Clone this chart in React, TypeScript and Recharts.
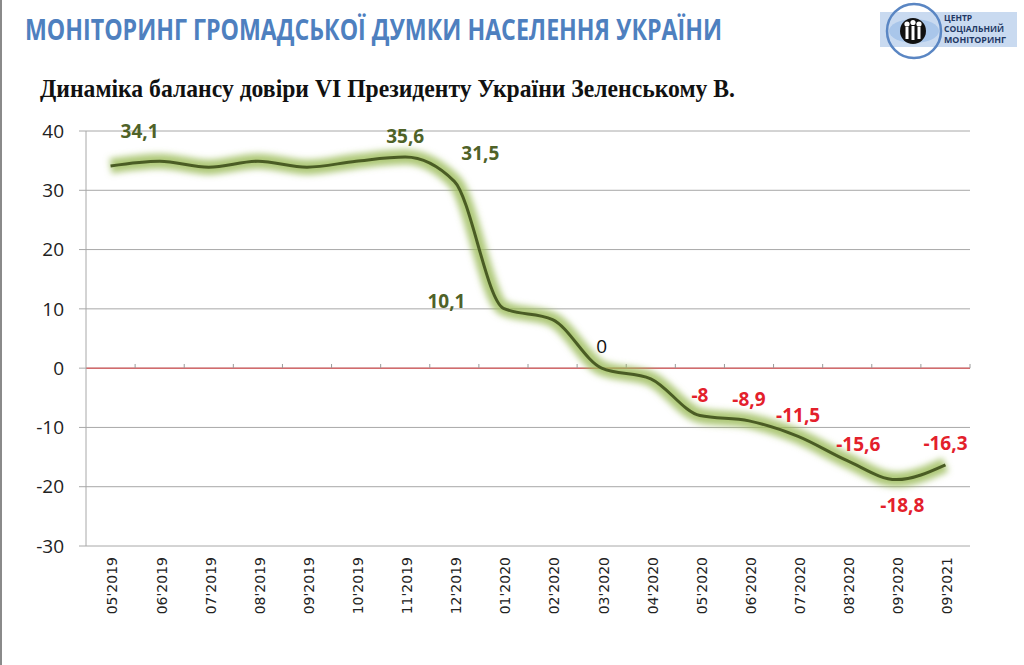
import React from 'react';
import { LineChart, Line, XAxis, YAxis, CartesianGrid, ReferenceLine, LabelList } from 'recharts';

const months = [
  "05'2019", "06'2019", "07'2019", "08'2019", "09'2019", "10'2019", "11'2019", "12'2019",
  "01'2020", "02'2020", "03'2020", "04'2020", "05'2020", "06'2020", "07'2020", "08'2020",
  "09'2020", "09'2021",
];
const balance = [34.1, 34.9, 33.9, 34.9, 33.9, 34.9, 35.6, 31.5, 10.1, 8.2, 0, -1.8, -8, -8.9, -11.5, -15.6, -18.8, -16.3];
const shownLabels: (number | null)[] = [34.1, null, null, null, null, null, 35.6, 31.5, 10.1, null, 0, null, -8, -8.9, -11.5, -15.6, -18.8, -16.3];
const yTicks = [40, 30, 20, 10, 0, -10, -20, -30];

const data = months.map((m, i) => ({ idx: i, month: m, balance: balance[i], label: shownLabels[i] }));
const boundaries = months.map((_, i) => i + 0.5);

// label placement (style): offset of label centre from the point
const labelOffsets: Record<number, [number, number]> = {
  0: [29, -35], 6: [0, -21], 7: [26, -28], 8: [-57, -7], 10: [0, -22],
  12: [0, -21], 13: [0, -22], 14: [0, -21], 15: [11, -17], 16: [6, 25], 17: [0, -22],
};

const renderLabel = (props: any) => {
  const { x, y, value, index } = props;
  if (value === null || value === undefined) return null;
  const off = labelOffsets[index] || [0, -20];
  const isZero = value === 0;
  const color = isZero ? '#111111' : value > 0 ? '#4F6228' : '#E3202B';
  return (
    <text
      x={x + off[0]}
      y={y + off[1] + 7}
      textAnchor="middle"
      fill={color}
      fontFamily="'Open Sans', sans-serif"
      fontSize={19}
      fontWeight={isZero ? 400 : 700}
    >
      {String(value).replace('.', ',')}
    </text>
  );
};

const XTick = (props: any) => {
  const { x, y, payload } = props;
  return (
    <text
      transform={`translate(${x + 2},${y + 11}) rotate(-90)`}
      textAnchor="end"
      dy="0.35em"
      fill="#222"
      fontFamily="'DejaVu Sans', sans-serif"
      fontSize={14}
    >
      {months[payload.value]}
    </text>
  );
};

const Logo = () => (
  <svg width={160} height={66} style={{ position: 'absolute', left: 864, top: 0 }} viewBox="864 0 160 66">
    <rect x={880} y={12} width={137} height={35} fill="#C9DAF0" />
    <ellipse cx={914} cy={31} rx={25} ry={12} fill="#A9C6EA" />
    <circle cx={914} cy={31} r={27} fill="none" stroke="#5A86C3" strokeWidth={2.5} />
    <circle cx={913} cy={31} r={13} fill="#111" />
    <circle cx={907} cy={24} r={2.6} fill="#fff" />
    <circle cx={913} cy={22.5} r={2.6} fill="#fff" />
    <circle cx={919} cy={24} r={2.6} fill="#fff" />
    <rect x={905.5} y={27} width={3} height={12} fill="#fff" />
    <rect x={911.5} y={26} width={3} height={14} fill="#fff" />
    <rect x={917.5} y={27} width={3} height={12} fill="#fff" />
    <g fontFamily="'Open Sans', sans-serif" fontWeight={700} fontSize={8.5} fill="#1F3864">
      <text x={944} y={21}>ЦЕНТР</text>
      <text x={944} y={32} textLength={60} lengthAdjust="spacingAndGlyphs">СОЦІАЛЬНИЙ</text>
      <text x={944} y={43} textLength={62} lengthAdjust="spacingAndGlyphs">МОНІТОРИНГ</text>
    </g>
  </svg>
);

export default function App() {
  return (
    <div style={{ position: 'absolute', left: 0, top: 0, width: 1024, height: 665, background: '#fff', overflow: 'hidden' }}>
      <div style={{ position: 'absolute', left: 0, top: 0, width: 2, height: 665, background: '#8a8a8a' }} />
      <svg width={1024} height={110} style={{ position: 'absolute', left: 0, top: 0 }}>
        <text
          x={25}
          y={40}
          textLength={697}
          lengthAdjust="spacingAndGlyphs"
          fontFamily="'Open Sans', sans-serif"
          fontWeight={700}
          fontSize={28}
          fill="#4E80BF"
        >
          МОНІТОРИНГ ГРОМАДСЬКОЇ ДУМКИ НАСЕЛЕННЯ УКРАЇНИ
        </text>
        <text
          x={40}
          y={97}
          textLength={695}
          lengthAdjust="spacingAndGlyphs"
          fontFamily="'Liberation Serif', 'DejaVu Serif', serif"
          fontWeight={700}
          fontSize={25}
          fill="#111"
        >
          Динаміка балансу довіри VI Президенту України Зеленському В.
        </text>
      </svg>
      <Logo />
      <div style={{ position: 'absolute', left: 0, top: 0 }}>
        <LineChart
          width={1024}
          height={665}
          data={data}
          margin={{ top: 131, right: 54, bottom: 39, left: 26 }}
        >
          <defs>
            <filter id="glow" x="-10%" y="-10%" width="120%" height="120%">
              <feGaussianBlur stdDeviation="3" />
            </filter>
          </defs>
          <CartesianGrid horizontal vertical={false} stroke="#A8A8A8" />
          <XAxis
            dataKey="idx"
            type="number"
            domain={[-0.5, 17.5]}
            ticks={data.map((d) => d.idx)}
            interval={0}
            axisLine={false}
            tickLine={false}
            tickSize={0}
            tickMargin={0}
            height={80}
            tick={<XTick />}
          />
          <YAxis
            type="number"
            domain={[-30, 40]}
            ticks={yTicks}
            interval={0}
            width={60}
            axisLine={{ stroke: '#A8A8A8' }}
            tickLine={{ stroke: '#A8A8A8' }}
            tickSize={7}
            tickMargin={15}
            tick={{ fill: '#222', fontSize: 19, fontFamily: "'Open Sans', sans-serif" }}
          />
          <ReferenceLine y={0} stroke="#D8383C" strokeWidth={1} />
          {boundaries.map((b) => (
            <ReferenceLine
              key={b}
              segment={[{ x: b, y: 0 }, { x: b, y: 0.7 }]}
              stroke="#9A9A9A"
              strokeWidth={1}
            />
          ))}
          <Line
            dataKey="balance"
            type="monotone"
            stroke="#9BBB59"
            strokeWidth={15}
            strokeOpacity={0.8}
            filter="url(#glow)"
            dot={false}
            activeDot={false}
            isAnimationActive={false}
          />
          <Line
            dataKey="balance"
            type="monotone"
            stroke="#4A5C24"
            strokeWidth={3}
            dot={false}
            activeDot={false}
            isAnimationActive={false}
          >
            <LabelList dataKey="label" content={renderLabel} />
          </Line>
        </LineChart>
      </div>
    </div>
  );
}
